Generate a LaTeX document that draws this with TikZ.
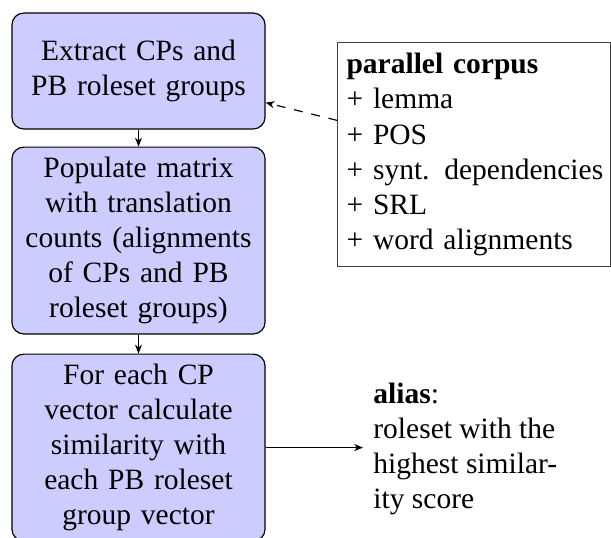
\documentclass[tikz,border=0pt]{standalone}
\usepackage{fontspec}
\newfontfamily\tms{Liberation Serif}
\usetikzlibrary{arrows.meta}
\begin{document}
\begin{tikzpicture}[x=0.339pt,y=-0.339pt,
  every node/.style={font=\tms\fontsize{10pt}{11.9pt}\selectfont},
  stepbox/.style={draw=black, fill=blue!20, rounded corners=4pt, align=center,
    text width=79pt, minimum width=85.8pt, inner sep=3.33pt, line width=0.4pt},
  listbox/.style={draw=black!75, align=left, text width=86.5pt, inner xsep=3pt, inner ysep=3.6pt, line width=0.5pt},
  arr/.style={-{Stealth[length=3pt,width=2.4pt]}, line width=0.4pt}]
\useasboundingbox (0,0) rectangle (611,537);
\node[stepbox, minimum height=39.3pt] (extract) at (138.5,71)
  {Extract CPs and\\PB roleset groups};
\node[stepbox, anchor=north] (populate) at (138.5,146.5)
  {Populate matrix\\with translation\\counts (alignments\\of CPs and PB\\roleset groups)};
\node[stepbox, anchor=north] (calc) at (138.5,353.5)
  {For each CP\\vector calculate\\similarity with\\each PB roleset\\group vector};
\node[listbox, anchor=north west] (corpus) at (337,42)
  {\textbf{parallel corpus}\\+ lemma\\+ POS\\\mbox{+ synt.\hspace{5pt}dependencies}\\+ SRL\\+ word alignments};
\node[align=left, anchor=west, inner sep=3.33pt] (alias) at (363,449)
  {\textbf{alias}:\\roleset with the\\highest similar-\\ity score};
\draw[arr] (extract) -- (populate);
\draw[arr] (populate) -- (calc);
\draw[arr, dashed] (corpus) -- (extract);
\draw[arr] (calc.east) -- (calc.east -| alias.west);
\end{tikzpicture}
\end{document}
